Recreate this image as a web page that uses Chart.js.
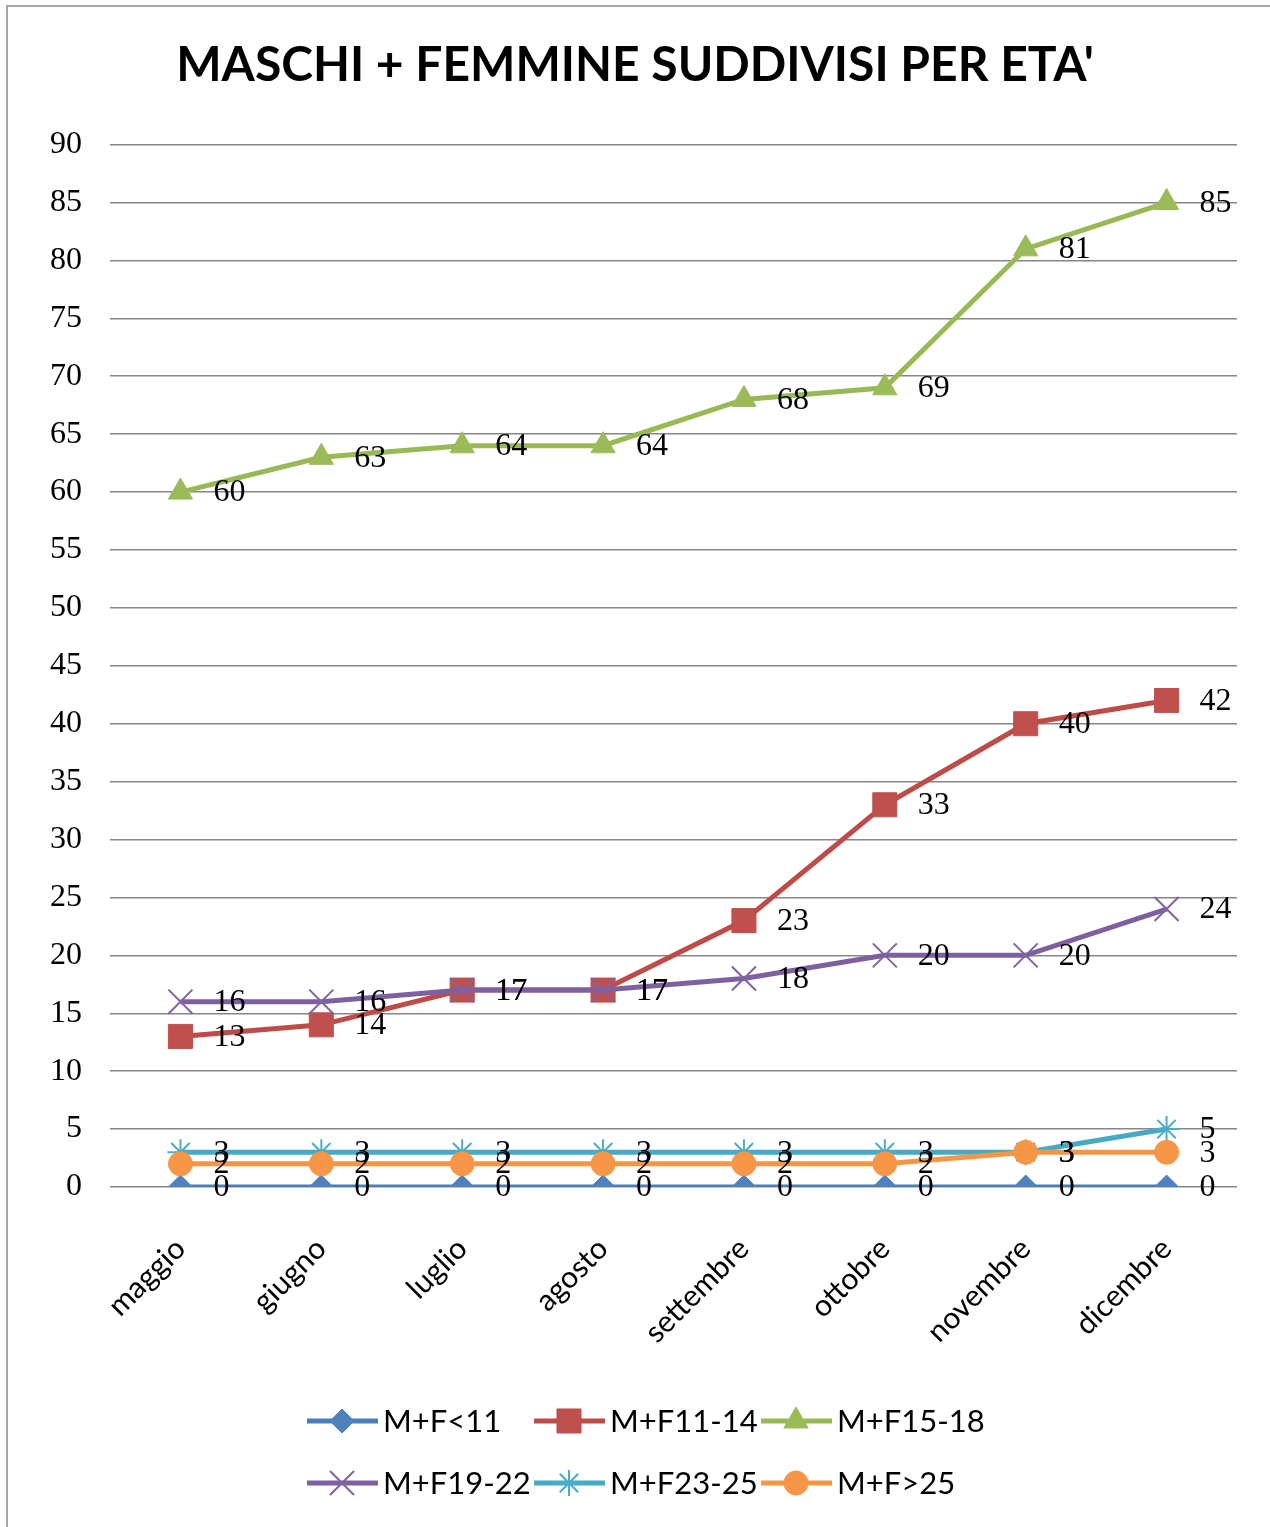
<!DOCTYPE html>
<html>
<head>
<meta charset="utf-8">
<script src="https://cdn.jsdelivr.net/npm/chart.js@4.4.1/dist/chart.umd.min.js"></script>
<style>
  html, body { margin: 0; padding: 0; background: #fff; }
  #wrap { width: 1270px; height: 1527px; position: relative; }
</style>
</head>
<body>
<div id="wrap"><canvas id="chart" width="1270" height="1527"></canvas></div>
<script>
// data
const months = ["maggio", "giugno", "luglio", "agosto", "settembre", "ottobre", "novembre", "dicembre"];
const seriesNames = ["M+F<11", "M+F11-14", "M+F15-18", "M+F19-22", "M+F23-25", "M+F>25"];
const under11 = [0, 0, 0, 0, 0, 0, 0, 0];
const age11to14 = [13, 14, 17, 17, 23, 33, 40, 42];
const age15to18 = [60, 63, 64, 64, 68, 69, 81, 85];
const age19to22 = [16, 16, 17, 17, 18, 20, 20, 24];
const age23to25 = [3, 3, 3, 3, 3, 3, 3, 5];
const over25 = [2, 2, 2, 2, 2, 2, 3, 3];
const yTicks = { min: 0, max: 90, step: 5 };

const seriesData = [under11, age11to14, age15to18, age19to22, age23to25, over25];
const lineColors = ["#4A7EBB", "#BE4B48", "#98B954", "#7D60A0", "#46AAC5", "#F69545"];
const markerColors = ["#4F81BD", "#C0504D", "#9BBB59", "#8064A2", "#4BACC6", "#F79646"];
const markerStyles = ["rectRot", "rect", "triangle", "crossRot", "star", "circle"];
const markerSizes = [12, 17, 14, 17, 13, 12];
const markerBorders = [1, 1, 1, 2, 2, 1];

const datasets = seriesData.map((vals, i) => ({
  label: seriesNames[i],
  data: vals,
  borderColor: lineColors[i],
  backgroundColor: markerColors[i],
  borderWidth: 5,
  tension: 0,
  pointStyle: markerStyles[i],
  pointRadius: markerSizes[i],
  pointBorderWidth: markerBorders[i],
  pointBorderColor: markerColors[i],
  pointBackgroundColor: markerColors[i],
  order: seriesData.length - i
}));

// frame (left + top edge only, as in the picture)
const frame = {
  id: "frame",
  beforeDraw(chart) {
    const ctx = chart.ctx;
    ctx.save();
    ctx.fillStyle = "#fff";
    ctx.fillRect(0, 0, chart.width, chart.height);
    ctx.strokeStyle = "#a6a6a6";
    ctx.lineWidth = 2;
    ctx.beginPath();
    ctx.moveTo(7, chart.height);
    ctx.lineTo(7, 6);
    ctx.lineTo(chart.width, 6);
    ctx.stroke();
    ctx.restore();
  }
};

// value labels to the right of each point
const valueLabels = {
  id: "valueLabels",
  afterDatasetsDraw(chart) {
    const ctx = chart.ctx;
    ctx.save();
    ctx.font = '32px "Liberation Serif", serif';
    ctx.fillStyle = "#000";
    ctx.textAlign = "left";
    ctx.textBaseline = "middle";
    chart.data.datasets.forEach((d, i) => {
      chart.getDatasetMeta(i).data.forEach((pt, j) => {
        ctx.fillText(String(d.data[j]), pt.x + 33, pt.y + 1);
      });
    });
    ctx.restore();
  }
};

// legend with line + marker, 3 per row
const lineLegend = {
  id: "lineLegend",
  afterDraw(chart) {
    const ctx = chart.ctx;
    const top = chart.chartArea.bottom + 234;
    ctx.save();
    ctx.font = '31px Lato, sans-serif';
    ctx.textBaseline = "middle";
    ctx.textAlign = "left";
    chart.data.datasets.forEach((d, i) => {
      const row = Math.floor(i / 3), col = i % 3;
      const x0 = 307 + col * 227;
      const y = top + row * 62;
      ctx.strokeStyle = d.borderColor;
      ctx.lineWidth = 5;
      ctx.beginPath();
      ctx.moveTo(x0, y);
      ctx.lineTo(x0 + 71, y);
      ctx.stroke();
      ctx.fillStyle = d.pointBackgroundColor;
      ctx.strokeStyle = d.pointBorderColor;
      ctx.lineWidth = d.pointBorderWidth;
      Chart.helpers.drawPoint(ctx, { pointStyle: d.pointStyle, radius: d.pointRadius, borderWidth: d.pointBorderWidth, rotation: 0 }, x0 + 35, y);
      ctx.fillStyle = "#000";
      ctx.fillText(d.label, x0 + 76, y + 1);
    });
    ctx.restore();
  }
};

new Chart(document.getElementById("chart"), {
  type: "line",
  data: { labels: months, datasets },
  plugins: [frame, valueLabels, lineLegend],
  options: {
    responsive: false,
    animation: false,
    layout: { padding: { left: 0, right: 0, top: 0, bottom: 170 } },
    plugins: {
      legend: { display: false },
      tooltip: { enabled: false },
      title: {
        display: true,
        text: "MASCHI + FEMMINE SUDDIVISI PER ETA'",
        color: "#000",
        font: { family: "Lato", weight: "bold", size: 48 },
        padding: { top: 37, bottom: 50 }
      }
    },
    scales: {
      x: {
        offset: true,
        grid: { display: false, drawTicks: false },
        border: { display: false },
        ticks: {
          maxRotation: 45, minRotation: 45,
          color: "#000",
          font: { family: "Lato", size: 30 },
          padding: 44
        },
        afterFit(s) { s.height = 170; }
      },
      y: {
        min: yTicks.min, max: yTicks.max,
        ticks: {
          stepSize: yTicks.step,
          color: "#000",
          font: { family: "Liberation Serif", size: 32 },
          padding: 28
        },
        grid: { color: "#868686", lineWidth: 1.5, drawTicks: false },
        border: { display: false },
        afterFit(s) { s.width = 110; }
      },
      // empty right margin so the title centres on the whole picture
      yRight: {
        position: "right",
        min: yTicks.min, max: yTicks.max,
        ticks: { display: false },
        grid: { display: false, drawTicks: false },
        border: { display: false },
        afterFit(s) { s.width = 33; }
      }
    }
  }
});
</script>
</body>
</html>
